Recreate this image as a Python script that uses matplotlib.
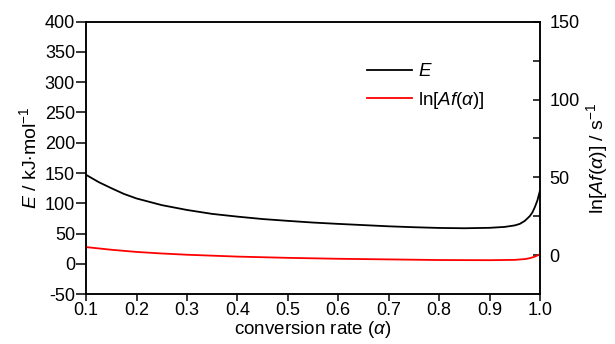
import matplotlib
matplotlib.use("Agg")
import matplotlib.pyplot as plt

plt.rcParams['font.family'] = ['Liberation Sans', 'DejaVu Sans']
plt.rcParams['mathtext.fontset'] = 'custom'
plt.rcParams['mathtext.it'] = 'Liberation Sans:italic'
plt.rcParams['mathtext.rm'] = 'Liberation Sans'
plt.rcParams['axes.unicode_minus'] = False

alpha_E = [0.10, 0.125, 0.15, 0.175, 0.20, 0.25, 0.30, 0.35, 0.40, 0.45, 0.50, 0.55, 0.60,
           0.65, 0.70, 0.75, 0.80, 0.85, 0.90, 0.93, 0.95, 0.96, 0.97, 0.98, 0.985,
           0.99, 0.995, 1.00]
E_vals = [147, 135, 125, 115.5, 108, 97, 89, 82.5, 78, 74, 71, 68.2, 66,
          64, 62, 60.5, 59.3, 58.8, 59.5, 61, 63.5, 66, 71, 79, 85,
          94, 105, 121]

alpha_L = [0.10, 0.15, 0.20, 0.25, 0.30, 0.40, 0.50, 0.60, 0.70, 0.80, 0.90,
           0.95, 0.97, 0.98, 0.99, 1.00]
lnAf_vals = [5.2, 3.5, 2.1, 1.1, 0.3, -0.9, -1.7, -2.3, -2.7, -3.1, -3.2,
             -3.0, -2.5, -1.9, -0.9, 0.6]

x_ticks = [0.1, 0.2, 0.3, 0.4, 0.5, 0.6, 0.7, 0.8, 0.9, 1.0]
left_ticks = [-50, 0, 50, 100, 150, 200, 250, 300, 350, 400]
right_ticks = [0, 50, 100, 150]

fig = plt.figure(figsize=(6.15, 3.44), dpi=100)
ax = fig.add_axes([0.140, 0.145, 0.738, 0.792])
ax2 = ax.twinx()

l1, = ax.plot(alpha_E, E_vals, color='black', lw=1.3, label='$E$')
l2, = ax2.plot(alpha_L, lnAf_vals, color='#ff0000', lw=1.3, label=r'ln[$Af$($\alpha$)]')

ax.set_xlim(0.1, 1.0)
ax.set_ylim(-50, 400)
ax2.set_ylim(-25, 150)

ax.set_xticks(x_ticks)
ax.set_xticklabels([f"{v:.1f}" for v in x_ticks])
ax.set_yticks(left_ticks)
ax2.set_yticks(right_ticks)
ax2.set_yticks([25, 75, 125], minor=True)

for a in (ax, ax2):
    for s in a.spines.values():
        s.set_linewidth(1.1)

ax.tick_params(axis='x', direction='out', length=5, width=1.1, labelsize=13, pad=1)
ax.tick_params(axis='y', direction='out', length=7, width=1.1, labelsize=13, pad=1)
ax2.tick_params(axis='y', which='both', direction='in', length=5, width=1.1, labelsize=13, pad=7)

ax.set_xlabel(r'conversion rate ($\alpha$)', fontsize=13.5, labelpad=0)
ax.set_ylabel(r'$E$ / kJ$\cdot$mol$^{-1}$', fontsize=14, labelpad=3)
ax2.set_ylabel(r'ln[$Af$($\alpha$)] / s$^{-1}$', fontsize=14, labelpad=3)

ax.legend(handles=[l1, l2], loc='upper left', bbox_to_anchor=(0.603, 0.875),
          frameon=False, fontsize=13.5, handlelength=2.4, handletextpad=0.3,
          labelspacing=0.5, borderaxespad=0)

fig.savefig('out.png', dpi=100)
